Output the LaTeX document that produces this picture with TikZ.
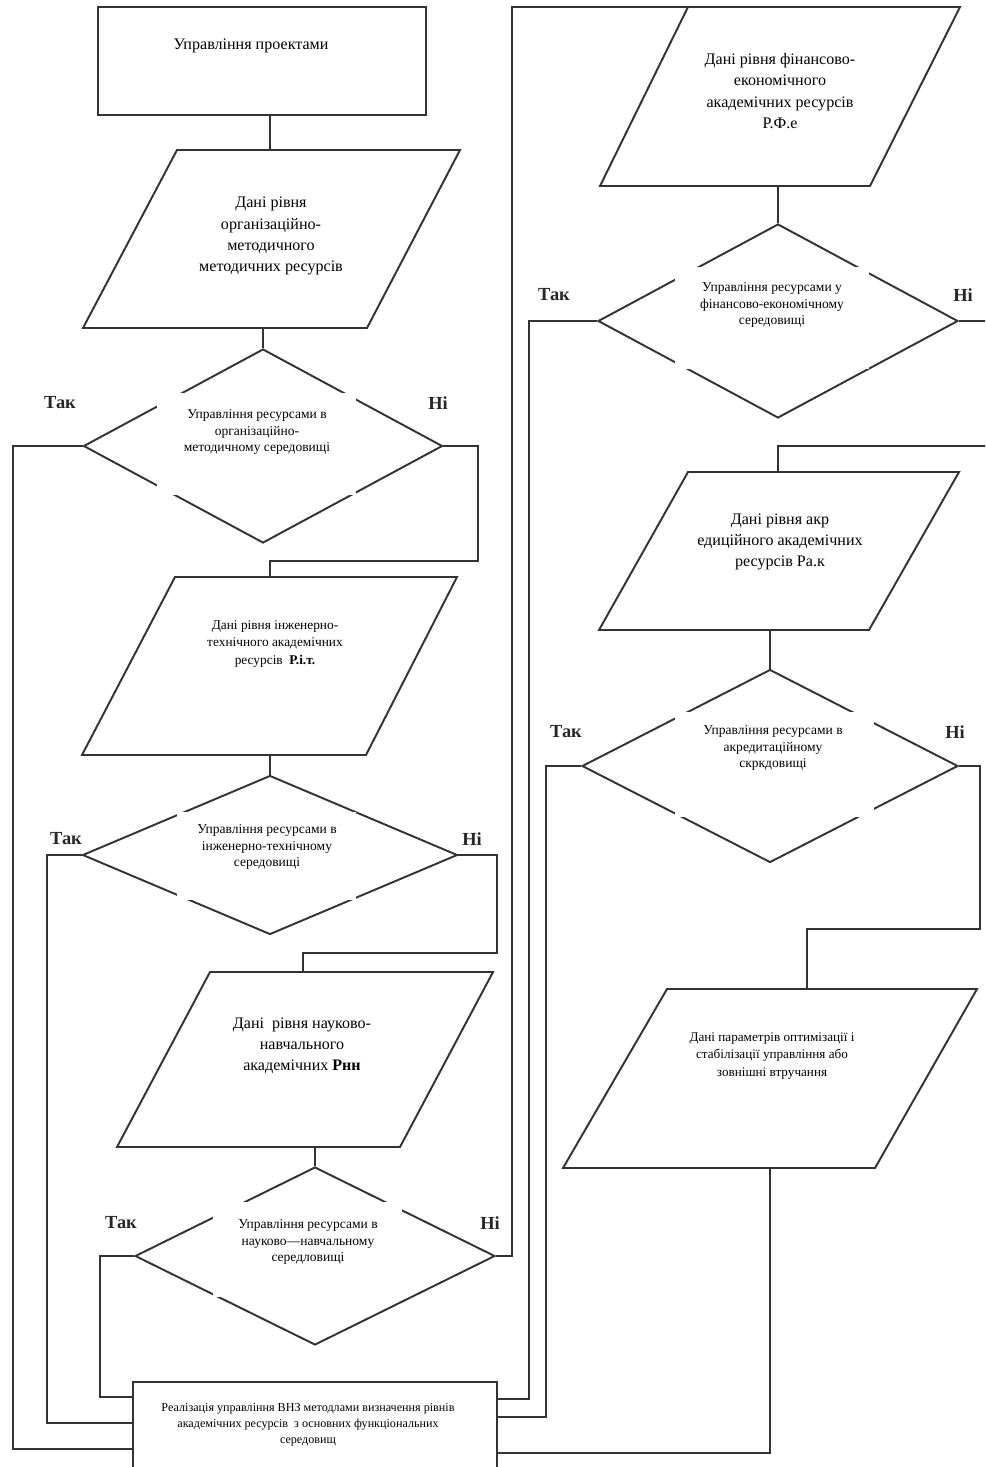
\documentclass[tikz,border=0pt]{standalone}
\usepackage{fontspec}
\setmainfont{Liberation Serif}
\usetikzlibrary{shapes.geometric,calc}
\begin{document}
\begin{tikzpicture}[x=0.02cm,y=-0.02cm,
  ln/.style={line width=1.1pt, draw=black!80},
  dia/.style={diamond, draw=black!80, line width=1.1pt, inner sep=0pt, aspect=1},
  mask/.style={fill=white, inner sep=0pt},
  sm/.style={align=center, inner sep=0pt, font=\fontsize{7.7}{9.6}\selectfont},
  md/.style={align=center, inner sep=0pt, font=\fontsize{7.6}{9.9}\selectfont},
  bg/.style={align=center, inner sep=0pt, font=\fontsize{9.15}{12}\selectfont},
  yn/.style={inner sep=0pt, font=\fontsize{10.5}{13}\selectfont\bfseries, text=black!85},
]
\useasboundingbox (0,0) rectangle (985,1467);
\clip (0,0) rectangle (985,1467);
\fill[white] (0,0) rectangle (985,1467);

% ---------- start box
\node[draw=black!80, line width=1.1pt, minimum width=6.56cm, minimum height=2.16cm, inner sep=0pt] (r) at (262,61) {};
\node[bg] (rt) at (251,46) {Управління проектами};

% ---------- parallelogram 1
\coordinate (p1a) at (177,150); \coordinate (p1b) at (460,150);
\coordinate (p1c) at (367,328); \coordinate (p1d) at (83,328);
\draw[ln] (p1a)--(p1b)--(p1c)--(p1d)--cycle;
\node[bg] (p1) at (271,236) {Дані рівня\\організаційно-\\методичного\\методичних ресурсів};
\coordinate (p1top) at (270,150);
\coordinate (p1bot) at (263,328);

% ---------- diamond 1
\node[dia, minimum width=7.18cm, minimum height=3.88cm] (d1) at (263,446) {};
\node[mask, minimum width=3.98cm, minimum height=2.04cm] (m1) at (256.5,444) {};
\node[sm] (t1) at (257,432) {Управління ресурсами в\\організаційно-\\методичному середовищі};
\node[yn] (y1) at (60,403) {Так};
\node[yn] (n1) at (438,403) {Ні};

% ---------- parallelogram 2
\coordinate (p2a) at (175,577); \coordinate (p2b) at (457,577);
\coordinate (p2c) at (366,755); \coordinate (p2d) at (82,755);
\draw[ln] (p2a)--(p2b)--(p2c)--(p2d)--cycle;
\node[md] (p2) at (275,644) {Дані рівня інженерно-\\технічного академічних\\ресурсів\ \ \textbf{Р.і.т.}};
\coordinate (p2top) at (270,577);
\coordinate (p2bot) at (270,755);

% ---------- diamond 2
\node[dia, minimum width=7.5cm, minimum height=3.18cm] (d2) at (270,855) {};
\node[mask, minimum width=3.58cm, minimum height=1.76cm] (m2) at (266.5,856) {};
\node[sm] (t2) at (267,847) {Управління ресурсами в\\інженерно-технічному\\середовищі};
\node[yn] (y2) at (66,839) {Так};
\node[yn] (n2) at (472,839) {Ні};

% ---------- parallelogram 3
\coordinate (p3a) at (210,972); \coordinate (p3b) at (493,972);
\coordinate (p3c) at (400,1147); \coordinate (p3d) at (117,1147);
\draw[ln] (p3a)--(p3b)--(p3c)--(p3d)--cycle;
\node[bg] (p3) at (302,1046) {Дані\ \ рівня науково-\\навчального\\академічних \textbf{Рнн}};
\coordinate (p3top) at (303,972);
\coordinate (p3bot) at (315,1147);

% ---------- diamond 3
\node[dia, minimum width=7.2cm, minimum height=3.56cm] (d3) at (315,1256) {};
\node[mask, minimum width=3.78cm, minimum height=1.9cm] (m3) at (307.5,1249.5) {};
\node[sm] (t3) at (308,1242) {Управління ресурсами в\\науково—навчальному\\середловищі};
\node[yn] (y3) at (121,1223) {Так};
\node[yn] (n3) at (490,1223) {Ні};

% ---------- parallelogram 4
\coordinate (p4a) at (688,7); \coordinate (p4b) at (960,7);
\coordinate (p4c) at (870,186); \coordinate (p4d) at (600,186);
\draw[ln] (p4a)--(p4b)--(p4c)--(p4d)--cycle;
\node[bg] (p4) at (780,91) {Дані рівня фінансово-\\економічного\\академічних ресурсів\\Р.Ф.е};
\coordinate (p4bot) at (778,186);

% ---------- diamond 4
\node[dia, minimum width=7.2cm, minimum height=3.88cm] (d4) at (778,321) {};
\node[mask, minimum width=3.88cm, minimum height=2.04cm] (m4) at (772,318) {};
\node[sm] (t4) at (772,305) {Управління ресурсами у\\фінансово-економічному\\середовищі};
\node[yn] (y4) at (554,295) {Так};
\node[yn] (n4) at (963,295) {Ні};

% ---------- parallelogram 6
\coordinate (p6a) at (688,472); \coordinate (p6b) at (959,472);
\coordinate (p6c) at (869,630); \coordinate (p6d) at (599,630);
\draw[ln] (p6a)--(p6b)--(p6c)--(p6d)--cycle;
\node[bg] (p6) at (780,542) {Дані рівня акр\\едиційного академічних\\ресурсів Ра.к};
\coordinate (p6top) at (778,472);
\coordinate (p6bot) at (770,630);

% ---------- diamond 5
\node[dia, minimum width=7.52cm, minimum height=3.86cm] (d5) at (770,766) {};
\node[mask, minimum width=3.98cm, minimum height=2.1cm] (m5) at (774.5,764.5) {};
\node[sm] (t5) at (773,748) {Управління ресурсами в\\акредитаційному\\скркдовищі};
\node[yn] (y5) at (566,732) {Так};
\node[yn] (n5) at (955,732) {Ні};

% ---------- parallelogram 5
\coordinate (p5a) at (667,989); \coordinate (p5b) at (977,989);
\coordinate (p5c) at (875,1168); \coordinate (p5d) at (563,1168);
\draw[ln] (p5a)--(p5b)--(p5c)--(p5d)--cycle;
\node[align=center, inner sep=0pt, font=\fontsize{7.5}{10}\selectfont] (p5) at (772,1056) {Дані параметрів оптимізації і\\стабілізації управління або\\зовнішні втручання};
\coordinate (p5top) at (807,989);
\coordinate (p5bot) at (770,1168);

% ---------- final box
\node[draw=black!80, fill=white, line width=1.1pt, minimum width=7.28cm, minimum height=1.96cm, inner sep=0pt] (bx) at (315,1431) {};
\node[align=center, inner sep=0pt, font=\fontsize{6.9}{9}\selectfont] (bt) at (308,1425) {Реалізація управління ВНЗ методлами визначення рівнів\\академічних ресурсів\ \ з основних функціональних\\середовищ};

% ---------- connectors
\draw[ln] (p1top |- r.south) -- (p1top);
\draw[ln] (p1bot) -- (d1.north);
\draw[ln] (d1.east) -| (478,561) -| (p2top);
\draw[ln] (p2bot) -- (d2.north);
\draw[ln] (d2.east) -| (497,953) -| (p3top);
\draw[ln] (p3bot) -- (d3.north);
\draw[ln] (d3.east) -| (512,7) -- (p4a);
\draw[ln] (p4bot) -- (d4.north);
\draw[ln] (d4.east) -| (995,446) -| (p6top);
\draw[ln] (p6bot) -- (d5.north);
\draw[ln] (d5.east) -| (980,929) -| (p5top);

\draw[ln] (d1.west) -| (13,1449) -- (bx.west |- 0,1449);
\draw[ln] (d2.west) -| (47,1423) -- (bx.west |- 0,1423);
\draw[ln] (d3.west) -| (100,1397) -- (bx.west |- 0,1397);
\draw[ln] (d4.west) -| (529,1399) -- (bx.east |- 0,1399);
\draw[ln] (d5.west) -| (546,1417) -- (bx.east |- 0,1417);
\draw[ln] (p5bot) |- (bx.east |- 0,1453);
\end{tikzpicture}
\end{document}
